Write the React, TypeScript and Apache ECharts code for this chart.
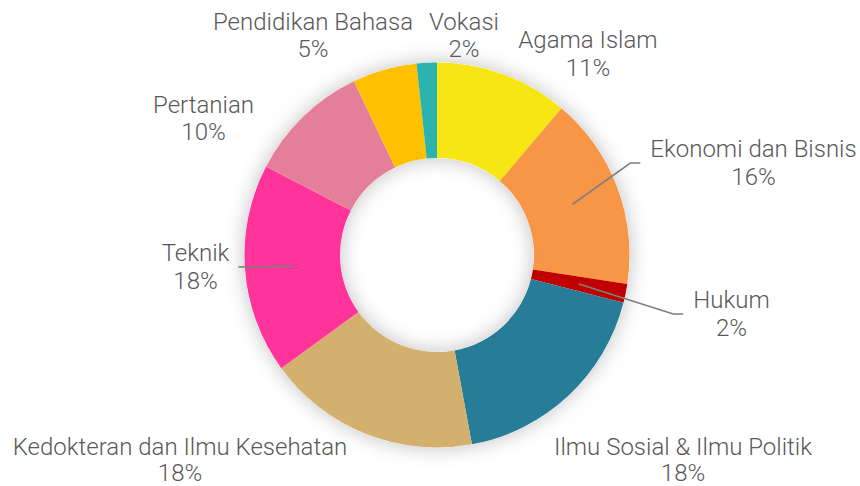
import React, { useEffect, useRef } from "react";
import * as echarts from "echarts";

const categories = [
  "Agama Islam",
  "Ekonomi dan Bisnis",
  "Hukum",
  "Ilmu Sosial & Ilmu Politik",
  "Kedokteran dan Ilmu Kesehatan",
  "Teknik",
  "Pertanian",
  "Pendidikan Bahasa",
  "Vokasi",
];
const values = [11.2, 16.2, 1.6, 18.1, 17.9, 17.6, 10.3, 5.4, 1.7];
const colors = [
  "#F5E614",
  "#F79646",
  "#C00000",
  "#277C98",
  "#D4B06F",
  "#FF3399",
  "#E57F99",
  "#FFC000",
  "#2BB3AE",
];
// label block centres (layout only)
const labelCenters: [number, number][] = [
  [588, 54],
  [753.5, 163],
  [731.5, 314],
  [683, 459.5],
  [180, 459.5],
  [195.5, 267],
  [203.5, 118.5],
  [313, 35.5],
  [464, 35.5],
];
const labelLineHeights = [27.5, 27.5, 27.5, 26, 26, 27.5, 27.5, 27.5, 27.5];
// which labels have a leader line, and on which side of the text
const lineSide: (string | null)[] = [null, "left", "left", null, null, "right", null, null, null];

const CENTER: [number, number] = [437, 255];
const R_IN = 97;
const R_OUT = 192.5;

export default function App() {
  const ref = useRef<HTMLDivElement>(null);
  useEffect(() => {
    document.body.style.margin = "0";
    if (!ref.current) return;
    const chart = echarts.init(ref.current, null, { renderer: "svg" });
    const total = values.reduce((a, b) => a + b, 0);
    const mids: number[] = [];
    let acc = 0;
    values.forEach((v) => {
      mids.push(((acc + v / 2) / total) * Math.PI * 2);
      acc += v;
    });
    const rMid = (R_IN + R_OUT) / 2;
    const baseData = categories.map((name, i) => ({ name, value: values[i] }));
    chart.setOption({
      animation: false,
      backgroundColor: "#ffffff",
      series: [
        {
          type: "pie",
          silent: true,
          center: CENTER,
          radius: [R_IN, R_OUT],
          label: { show: false },
          labelLine: { show: false },
          z: 1,
          data: [
            {
              value: 1,
              itemStyle: {
                color: "#ffffff",
                shadowBlur: 20,
                shadowColor: "rgba(0,0,0,0.25)",
              },
            },
          ],
        },
        {
          type: "pie",
          z: 2,
          center: CENTER,
          radius: [R_IN, R_OUT],
          startAngle: 90,
          clockwise: true,
          itemStyle: { borderWidth: 0 },
          label: { show: false },
          labelLine: { show: false },
          data: baseData.map((d, i) => ({ ...d, itemStyle: { color: colors[i] } })),
        },
        {
          type: "pie",
          z: 3,
          silent: true,
          center: CENTER,
          radius: [R_IN, R_OUT],
          startAngle: 90,
          clockwise: true,
          avoidLabelOverlap: false,
          itemStyle: { color: "rgba(0,0,0,0)", borderWidth: 0 },
          label: {
            show: true,
            position: "outside",
            formatter: (p: any) => `${p.name}\n${Math.round(p.percent)}%`,
            fontFamily: "Roboto",
            fontWeight: 300,
            fontSize: 24,
            lineHeight: 27.5,
            color: "#595959",
            align: "center",
          },
          labelLine: {
            show: true,
            lineStyle: { color: "#7F7F7F", width: 1.6 },
          },
          labelLayout: (params: any) => {
            const i = params.dataIndex;
            const [x, y] = labelCenters[i];
            const w = params.labelRect.width;
            const res: any = { x, y, align: "center", verticalAlign: "middle" };
            const side = lineSide[i];
            if (side) {
              const a = mids[i];
              const sx = CENTER[0] + rMid * Math.sin(a);
              const sy = CENTER[1] - rMid * Math.cos(a);
              let ex: number, bx: number;
              if (side === "left") {
                ex = x - w / 2 - 10;
                bx = ex - 10;
              } else {
                ex = x + w / 2 + 9;
                bx = ex;
              }
              res.labelLinePoints = [
                [sx, sy],
                [bx, y],
                [ex, y],
              ];
            }
            return res;
          },
          data: baseData.map((d, i) => ({
            ...d,
            label: { lineHeight: labelLineHeights[i] },
            labelLine: { show: !!lineSide[i] },
          })),
        },
      ],
    });
    return () => chart.dispose();
  }, []);
  return <div ref={ref} style={{ width: 860, height: 486 }} />;
}
